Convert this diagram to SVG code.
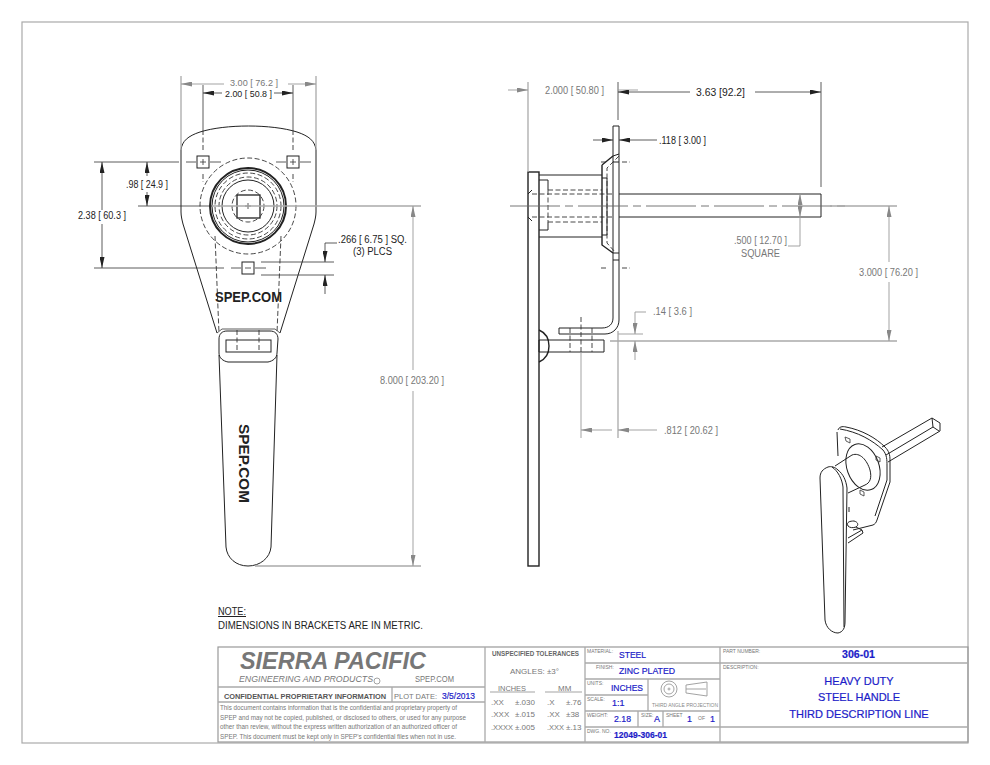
<svg xmlns="http://www.w3.org/2000/svg" width="990" height="765" viewBox="0 0 990 765">
<style>
text{font-family:"Liberation Sans",Arial,sans-serif}
.o{fill:none;stroke:#222;stroke-width:1}
.b{fill:none;stroke:#222;stroke-width:1.4}
.t{fill:none;stroke:#222;stroke-width:2}
.d{fill:none;stroke:#333;stroke-width:.9;stroke-dasharray:5 2.5}
.c{fill:none;stroke:#666;stroke-width:.9;stroke-dasharray:50 5 8 5}
.k{fill:none;stroke:#333;stroke-width:.8}
.g{fill:none;stroke:#999;stroke-width:.9}
.f{fill:none;stroke:#aaa;stroke-width:1.3}
.dk{font-size:10px;fill:#222}
.gy{font-size:10px;fill:#777}
.lab{font-size:5px;fill:#777}
.n{font-size:8px;fill:#777}
.bl{font-size:9px;fill:#1c1cc8;stroke:#1c1cc8;stroke-width:.2}
</style>
<defs>
<marker id="a" markerWidth="11" markerHeight="5" refX="11" refY="2.5" orient="auto-start-reverse" markerUnits="userSpaceOnUse"><path d="M0 0L11 2.5L0 5Z" fill="#222"/></marker>
<marker id="ag" markerWidth="11" markerHeight="5" refX="11" refY="2.5" orient="auto-start-reverse" markerUnits="userSpaceOnUse"><path d="M0 0L11 2.5L0 5Z" fill="#888"/></marker>
</defs>
<rect x="22" y="22" width="946" height="721" fill="#fff" stroke="#aaa" stroke-width="1.2"/>

<g id="front-view">
<path class="o" d="M181 212V150C182 141 188 136 200 132C225 124 272 124 297 132C309 136 315 141 316 150V212C316 216 315 220 314 224L280 333M181 212C181 216 182 220 183 224L217 333"/>
<path class="d" d="M215 236L219 333M281 236L277 333M203 130V150M293 130V150M203 174V182M293 174V182"/>
<path class="k" d="M217 333L222 329H275L280 333"/>
<rect class="o" x="197" y="156" width="12" height="12"/>
<rect class="o" x="287" y="156" width="12" height="12"/>
<rect class="o" x="242" y="262" width="12" height="12"/>
<path class="k" d="M186 162H196M210 162H221M200 162H206M203 159V165M276 162H286M300 162H311M290 162H296M293 159V165M245 268H251M231 268H241M255 268H266"/>
<circle class="d" cx="248" cy="206" r="48"/>
<circle class="t" cx="248" cy="206" r="38"/>
<circle class="o" cx="248" cy="206" r="36"/>
<circle class="d" cx="248" cy="206" r="33"/>
<circle class="d" cx="248" cy="206" r="29"/>
<circle class="o" cx="248" cy="206" r="26"/>
<circle class="d" cx="248" cy="206" r="16"/>
<rect x="237" y="195" width="23" height="23" fill="#fff" stroke="#222" stroke-width="1.3"/>
<path class="k" d="M245 206H251M248 203V209"/>
<text x="215" y="302" font-size="14" font-weight="bold" textLength="67" lengthAdjust="spacingAndGlyphs" fill="#222">SPEP.COM</text>
<path class="o" d="M219 339C219 334 222 331 227 331H270C275 331 278 334 278 339L277 353C277 358 273 361 268 362L228 362C223 361 219 358 219 353ZM219 355L226 547C227 558 236 566 248 566C260 566 270 558 271 547L277 355"/>
<rect class="o" x="226" y="340" width="45" height="12"/>
<path class="d" d="M237 330V352M259 330V352"/>
<text transform="translate(239 424) rotate(90)" font-size="15" font-weight="bold" textLength="79" lengthAdjust="spacingAndGlyphs" fill="#222">SPEP.COM</text>
</g>

<g id="side-view">
<rect class="b" x="528" y="172" width="11" height="394"/>
<path class="o" d="M528 194L532 190M528 217L532 221"/>
<path class="o" d="M539 175H602M539 237H602M539 180H548V190M548 222V230H539"/>
<path class="d" d="M548 190H602M548 222H602M548 190V222M532 194H613M532 217H613"/>
<path class="b" d="M602 165L613 156M602 165V245L613 253"/>
<path class="o" d="M613 126H619V320C619 328 613 334 605 334H559V328H602C609 328 613 324 613 318V126Z"/>
<path class="o" d="M602 178H607V235H602M613 162H619M613 253H619M613 260H619M613 156L619 154"/>
<path class="d" d="M619 156L607 168V243L615 252"/>
<path class="o" d="M619 194H821V217H619"/>
<path class="b" d="M539 330C546 333 549 339 549 346C549 353 546 359 539 362"/>
<path class="o" d="M539 340H604V352H539Z"/>
<path class="d" d="M570 328V352M592 328V352M581 317V352M601 162H608M622 162H630M601 268H608M622 268H630"/>
<path class="c" d="M510 206H850"/>
</g>

<g id="iso-view">
<path class="o" d="M882 447L932 418L940 423V431L888 462M932 418L933 427L939 431M933 427L886 455"/>
<path class="o" d="M838 430C839 427 842 426 846 427C862 430 876 438 885 447C889 451 890 455 890 460V482L877 520C876 523 875 524 873 525L853 530"/>
<path class="o" d="M837 432L838 456M840 429C858 432 872 440 883 450C887 455 887 460 887 466V480L875 516"/>
<ellipse class="o" cx="863" cy="467" rx="16" ry="24" transform="rotate(-20 863 467)"/>
<path class="o" d="M835 466L852 455C860 452 867 460 870 470C872 478 870 483 865 485L848 493"/>
<path class="o" d="M849 507V512M848 526C846 522 850 521 854 521C858 522 859 525 856 527C853 528 850 528 848 526ZM862 530L848 538M863 533L848 543M856 527L862 530L863 533"/>
<path fill="#fff" stroke="#222" stroke-width="1" d="M828 467C823 469 820 472 820 478L825 620C826 628 832 633 838 633C843 632 845 628 845 622L847 488C846 480 843 474 838 470C835 467 831 466 828 467Z"/>
<path class="o" d="M832 467C838 471 842 479 843 487L844 627"/>
<path class="k" d="M845 437L850 439V443L846 441ZM876 456L880 458L880 462L876 460ZM860 490L864 492V496L860 494Z"/>
</g>

<g id="connectors">
<path class="f" d="M181 76V150M316 76V150"/>
<path class="k" d="M203 85V130M293 85V130"/>
<path class="g" d="M224 84H181" marker-end="url(#ag)"/><path class="g" d="M288 84H316" marker-end="url(#ag)"/>
<path class="k" d="M222 93H203" marker-end="url(#a)"/><path class="k" d="M274 93H293" marker-end="url(#a)"/>
<path class="k" d="M94 162H179M94 268H224M138 206H212"/>
<path class="f" d="M212 206H421"/>
<path class="k" d="M102 210V162" marker-end="url(#a)"/><path class="k" d="M102 224V268" marker-end="url(#a)"/>
<path class="k" d="M147 176V162" marker-end="url(#a)"/><path class="k" d="M147 192V206" marker-end="url(#a)"/>
<path class="f" d="M255 566H421"/>
<path class="g" d="M413 370V206" marker-end="url(#ag)"/><path class="g" d="M413 391V566" marker-end="url(#ag)"/>
<path class="k" d="M261 262H334M261 275H334"/>
<path class="k" d="M337 243H325V262" marker-end="url(#a)"/><path class="k" d="M325 294V275" marker-end="url(#a)"/>
<path class="f" d="M528 82V172"/>
<path class="k" d="M618 82V120M821 82V187"/>
<path class="g" d="M508 90H528" marker-end="url(#ag)"/><path class="g" d="M618 90H638"/>
<path class="k" d="M690 92H618" marker-end="url(#a)"/><path class="k" d="M755 92H821" marker-end="url(#a)"/>
<path class="k" d="M593 140H613" marker-end="url(#a)"/><path class="k" d="M657 140H619" marker-end="url(#a)"/>
<path class="f" d="M830 206H897M610 341H897"/>
<path class="g" d="M889 262V206" marker-end="url(#ag)"/><path class="g" d="M889 282V341" marker-end="url(#ag)"/>
<path class="g" d="M800 206V194" marker-end="url(#ag)"/><path class="g" d="M800 206V217" marker-end="url(#ag)"/><path class="g" d="M800 217V246H788"/>
<path class="g" d="M618 334H643"/>
<path class="g" d="M646 312H635V334" marker-end="url(#ag)"/><path class="g" d="M635 360V341" marker-end="url(#ag)"/>
<path class="g" d="M581 352V438"/><path class="f" d="M618 331V438"/>
<path class="g" d="M612 430H581" marker-end="url(#ag)"/><path class="g" d="M657 430H618" marker-end="url(#ag)"/>
</g>

<g id="dimension-labels">
<text class="gy" x="230" y="86" style="font-size:9.5px" textLength="48" lengthAdjust="spacingAndGlyphs">3.00 [ 76.2 ]</text>
<text class="dk" x="225" y="97" style="font-size:9.5px" textLength="47" lengthAdjust="spacingAndGlyphs">2.00 [ 50.8 ]</text>
<text class="dk" x="126" y="188" textLength="42" lengthAdjust="spacingAndGlyphs">.98 [ 24.9 ]</text>
<text class="dk" x="78" y="219" textLength="48" lengthAdjust="spacingAndGlyphs">2.38 [ 60.3 ]</text>
<text class="dk" x="338" y="243" textLength="69" lengthAdjust="spacingAndGlyphs">.266 [ 6.75 ]  SQ.</text>
<text class="dk" x="353" y="255" textLength="39" lengthAdjust="spacingAndGlyphs">(3) PLCS</text>
<text class="gy" x="380" y="384" textLength="64" lengthAdjust="spacingAndGlyphs">8.000 [ 203.20 ]</text>
<text class="gy" x="545" y="94" textLength="59" lengthAdjust="spacingAndGlyphs">2.000 [ 50.80 ]</text>
<text class="dk" x="696" y="96" textLength="49" lengthAdjust="spacingAndGlyphs">3.63 [92.2]</text>
<text class="dk" x="659" y="144" textLength="47" lengthAdjust="spacingAndGlyphs">.118 [ 3.00 ]</text>
<text class="gy" x="734" y="244" textLength="53" lengthAdjust="spacingAndGlyphs">.500 [ 12.70 ]</text>
<text class="gy" x="741" y="257" textLength="39" lengthAdjust="spacingAndGlyphs">SQUARE</text>
<text class="gy" x="859" y="276" textLength="59" lengthAdjust="spacingAndGlyphs">3.000 [ 76.20 ]</text>
<text class="gy" x="653" y="315" textLength="39" lengthAdjust="spacingAndGlyphs">.14 [ 3.6 ]</text>
<text class="gy" x="664" y="434" textLength="54" lengthAdjust="spacingAndGlyphs">.812 [ 20.62 ]</text>
<text class="dk" x="218" y="615" text-decoration="underline" textLength="28" lengthAdjust="spacingAndGlyphs">NOTE:</text>
<text class="dk" x="218" y="629" textLength="205" lengthAdjust="spacingAndGlyphs">DIMENSIONS IN BRACKETS ARE IN METRIC.</text>
</g>

<g id="title-block">
<rect x="218" y="647" width="750" height="95" fill="none" stroke="#999" stroke-width="1.2"/>
<path class="f" d="M218 687H485M218 702H485M392 687V702M485 647V742M585 647V742M720 647V742M585 663H968M585 679H720M585 695H648M585 711H720M585 727H968M648 679V711M638 711V727M663 711V727"/>
<text x="240" y="669" font-size="24" font-weight="bold" font-style="italic" fill="#777" textLength="186" lengthAdjust="spacingAndGlyphs">SIERRA PACIFIC</text>
<text x="239" y="682" font-size="9.5" font-style="italic" fill="#777" textLength="134" lengthAdjust="spacingAndGlyphs">ENGINEERING AND PRODUCTS</text>
<circle class="g" cx="377" cy="681" r="3"/>
<text x="415" y="682" font-size="8.5" fill="#777" textLength="39" lengthAdjust="spacingAndGlyphs">SPEP.COM</text>
<text x="224" y="699" font-size="7.4" font-weight="bold" fill="#555" textLength="162" lengthAdjust="spacing">CONFIDENTIAL PROPRIETARY INFORMATION</text>
<text x="394" y="699" font-size="8" fill="#777" textLength="43" lengthAdjust="spacingAndGlyphs">PLOT DATE:</text>
<text class="bl" x="442" y="699" textLength="33" lengthAdjust="spacingAndGlyphs">3/5/2013</text>
<g font-size="7" fill="#777">
<text x="220" y="710" textLength="237" lengthAdjust="spacingAndGlyphs">This document contains information that is the confidential and proprietary property of</text>
<text x="220" y="720" textLength="246" lengthAdjust="spacingAndGlyphs">SPEP and may not be copied, published, or disclosed to others, or used for any purpose</text>
<text x="220" y="729" textLength="237" lengthAdjust="spacingAndGlyphs">other than review, without the express written authorization of an authorized officer of</text>
<text x="220" y="739" textLength="236" lengthAdjust="spacingAndGlyphs">SPEP. This document must be kept only in SPEP's confidential files when not in use.</text>
</g>
<text x="492" y="656" font-size="6.5" font-weight="bold" fill="#666" textLength="87" lengthAdjust="spacingAndGlyphs">UNSPECIFIED TOLERANCES</text>
<text class="n" x="510" y="674" textLength="49" lengthAdjust="spacingAndGlyphs">ANGLES:  ±3°</text>
<text class="n" x="498" y="691" textLength="28" lengthAdjust="spacingAndGlyphs">INCHES</text>
<text class="n" x="558" y="691">MM</text>
<path class="g" d="M490 692H535M545 692H582"/>
<text class="n" x="491" y="705">.XX</text><text class="n" x="515" y="705">±.030</text><text class="n" x="547" y="705">.X</text><text class="n" x="566" y="705">±.76</text>
<text class="n" x="491" y="717">.XXX</text><text class="n" x="515" y="717">±.015</text><text class="n" x="547" y="717">.XX</text><text class="n" x="566" y="717">±38</text>
<text class="n" x="491" y="730" textLength="22" lengthAdjust="spacingAndGlyphs">.XXXX</text><text class="n" x="515" y="730">±.005</text><text class="n" x="547" y="730" textLength="17" lengthAdjust="spacingAndGlyphs">.XXX</text><text class="n" x="566" y="730">±.13</text>
<text class="lab" x="587" y="653">MATERIAL:</text>
<text class="lab" x="596" y="669">FINISH:</text>
<text class="lab" x="587" y="685">UNITS:</text>
<text class="lab" x="587" y="701">SCALE:</text>
<text class="lab" x="587" y="717">WEIGHT:</text>
<text class="lab" x="641" y="717">SIZE:</text>
<text class="lab" x="666" y="717">SHEET</text>
<text class="lab" x="698" y="720">OF</text>
<text class="lab" x="587" y="733">DWG. NO.</text>
<text class="lab" x="723" y="653">PART NUMBER:</text>
<text class="lab" x="723" y="669">DESCRIPTION:</text>
<text class="bl" x="619" y="658" textLength="27" lengthAdjust="spacingAndGlyphs">STEEL</text>
<text class="bl" x="619" y="674" textLength="56" lengthAdjust="spacingAndGlyphs">ZINC PLATED</text>
<text class="bl" x="611" y="691" textLength="32" lengthAdjust="spacingAndGlyphs">INCHES</text>
<text class="bl" x="612" y="706">1:1</text>
<text class="bl" x="614" y="722" textLength="17" lengthAdjust="spacingAndGlyphs">2.18</text>
<text class="bl" x="654" y="722">A</text>
<text class="bl" x="687" y="722">1</text>
<text class="bl" x="710" y="722">1</text>
<text class="bl" x="614" y="738" font-weight="bold" textLength="53" lengthAdjust="spacingAndGlyphs">12049-306-01</text>
<text class="bl" x="842" y="658" font-weight="bold" style="font-size:11px" textLength="33" lengthAdjust="spacingAndGlyphs">306-01</text>
<text class="bl" x="859" y="685" text-anchor="middle" style="font-size:11px">HEAVY DUTY</text>
<text class="bl" x="859" y="701" text-anchor="middle" style="font-size:11px">STEEL HANDLE</text>
<text class="bl" x="859" y="718" text-anchor="middle" style="font-size:11px">THIRD DESCRIPTION LINE</text>
<circle class="g" cx="669" cy="689" r="8"/><circle class="g" cx="669" cy="689" r="5"/><circle class="g" cx="669" cy="689" r="1"/>
<path class="g" d="M686 685L707 682V696L686 693ZM686 689H706"/>
<text x="652" y="707" font-size="5.2" fill="#888" textLength="66" lengthAdjust="spacingAndGlyphs">THIRD ANGLE PROJECTION</text>
</g>
</svg>
